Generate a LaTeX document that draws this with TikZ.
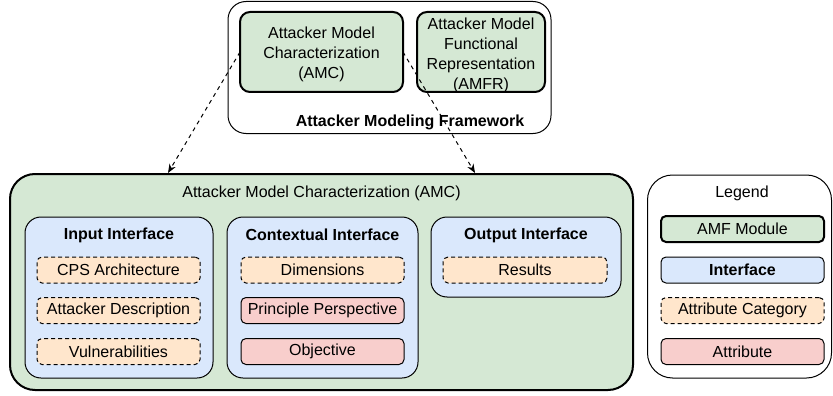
\documentclass[tikz,border=0pt]{standalone}
\usepackage{fontspec}
\setmainfont{Liberation Sans}
\usetikzlibrary{arrows.meta}
\definecolor{gfill}{HTML}{D5E8D4}
\definecolor{bfill}{HTML}{DAE8FC}
\definecolor{ofill}{HTML}{FFE6CC}
\definecolor{rfill}{HTML}{F8CECC}
\begin{document}
\begin{tikzpicture}[x=1pt,y=-1pt,font=\fontsize{16}{20}\selectfont,
  every node/.style={inner sep=0pt,outer sep=0pt},
  frame/.style={draw,line width=1pt,rounded corners=#1},
  module/.style={draw,line width=2pt,fill=gfill,rounded corners=10pt,align=center},
  iface/.style={draw,line width=1pt,fill=bfill,rounded corners=16pt},
  legiface/.style={draw,line width=1pt,fill=bfill,rounded corners=5pt,font=\fontsize{16}{20}\selectfont\bfseries},
  cat/.style={draw,line width=1pt,dash pattern=on 4pt off 3pt,fill=ofill,rounded corners=5pt},
  attr/.style={draw,line width=1pt,fill=rfill,rounded corners=5pt},
  head/.style={font=\fontsize{16}{20}\selectfont\bfseries},
  link/.style={line width=1pt,dash pattern=on 4pt off 4pt,-{Stealth[length=9pt,width=7pt]}}
]
\useasboundingbox (0,0) rectangle (833,396);

% Framework
\node[frame=18pt,minimum width=323pt,minimum height=132pt] (fw) at (389.5,67.5) {};
\node[module,minimum width=163pt,minimum height=80pt] (amc) at (321.5,52) {};
\node[align=center] (amctext) at (321.5,54.5) {Attacker Model\\Characterization\\(AMC)};
\node[module,minimum width=128pt,minimum height=80pt] (amfr) at (481,52) {};
\node[align=center] (amfrtext) at (481,55) {Attacker Model\\Functional\\Representation\\(AMFR)};
\node[head] (fwtitle) at (410,122) {Attacker Modeling Framework};

% Big AMC
\node[draw,line width=2pt,fill=gfill,rounded corners=25pt,minimum width=623pt,minimum height=216pt] (big) at (321.5,282) {};
\node (bigtitle) at (321.5,193) {Attacker Model Characterization (AMC)};

\node[iface,minimum width=188pt,minimum height=161pt] (in) at (119,297.5) {};
\node[iface,minimum width=191pt,minimum height=161pt] (ctx) at (322.5,297.5) {};
\node[iface,minimum width=190pt,minimum height=80pt] (out) at (526,257) {};

\node[head] (inh) at (119,235) {Input Interface};
\node[head] (ctxh) at (322.5,235) {Contextual Interface};
\node[head] (outh) at (526,235) {Output Interface};

\node[cat,minimum width=163pt,minimum height=26pt] (cps) at (118.5,270) {CPS Architecture};
\node[cat,minimum width=163pt,minimum height=26pt] (ad) at (118.5,310.5) {Attacker Description};
\node[cat,minimum width=163pt,minimum height=26pt] (vul) at (118.5,351.5) {Vulnerabilities};

\node[cat,minimum width=163pt,minimum height=26pt] (dim) at (322.5,270) {Dimensions};
\node[attr,minimum width=163pt,minimum height=26pt] (pp) at (322.5,310.5) {Principle Perspective};
\node[attr,minimum width=163pt,minimum height=26pt] (obj) at (322.5,351.5) {Objective};

\node[cat,minimum width=164pt,minimum height=26pt] (res) at (525,270) {Results};

% Legend
\node[frame=25pt,minimum width=184pt,minimum height=203pt] (leg) at (739.5,276.5) {};
\node (legt) at (742,193) {Legend};
\node[module,rounded corners=5pt,minimum width=163pt,minimum height=26pt] (l1) at (742.5,229) {AMF Module};
\node[legiface,minimum width=163pt,minimum height=26pt] (l2) at (742.5,270) {Interface};
\node[cat,minimum width=163pt,minimum height=26pt] (l3) at (742.5,310.5) {Attribute Category};
\node[attr,minimum width=163pt,minimum height=26pt] (l4) at (742.5,351.5) {Attribute};

% Arrows
\coordinate (t1) at (168,173);
\coordinate (t2) at (475,173);
\draw[link] (amc.west) -- (t1);
\draw[link] (amc.east) -- (t2);
\end{tikzpicture}
\end{document}
